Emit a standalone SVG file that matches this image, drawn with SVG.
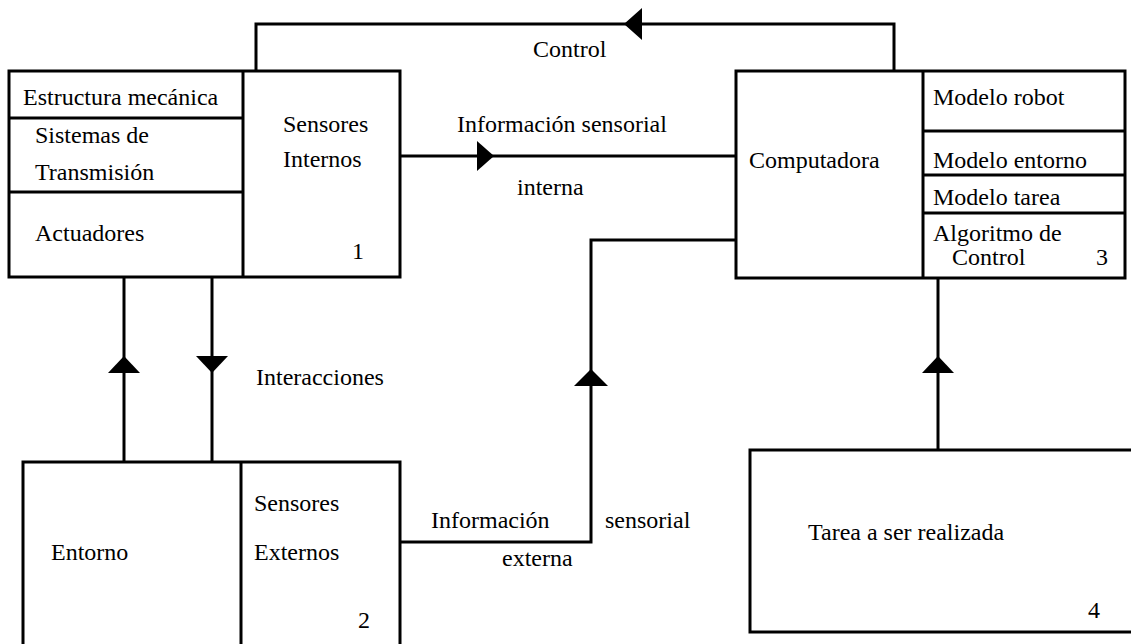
<svg xmlns="http://www.w3.org/2000/svg" width="1131" height="644" viewBox="0 0 1131 644">
  <rect width="1131" height="644" fill="#ffffff"/>

  <!-- Connectors: shared line look set on the group -->
  <g id="connectors">
    <g fill="none" stroke="#000000" stroke-width="3">
      <!-- Control: computer back to robot -->
      <polyline points="894,71 894,24 256,24 256,71"/>
      <!-- Internal sensory information -->
      <line x1="400" y1="156" x2="736" y2="156"/>
      <!-- Interactions robot / environment -->
      <line x1="124" y1="277" x2="124" y2="462"/>
      <line x1="212" y1="277" x2="212" y2="462"/>
      <!-- External sensory information -->
      <polyline points="400,542 591,542 591,240 736,240"/>
      <!-- Task to computer -->
      <line x1="938" y1="279" x2="938" y2="450"/>
    </g>
    <!-- Arrowheads -->
    <g fill="#000000">
      <polygon points="624,24 642,8 642,40"/>
      <polygon points="494,156 477,141 477,171"/>
      <polygon points="124,356 108,373 140,373"/>
      <polygon points="212,373 196,356 228,356"/>
      <polygon points="591,369 574,386 608,386"/>
      <polygon points="938,356 922,373 954,373"/>
    </g>
    <text x="533" y="57" font-family="Liberation Serif" font-size="24">Control</text>
    <text x="457" y="132" font-family="Liberation Serif" font-size="24">Información sensorial</text>
    <text x="517" y="195" font-family="Liberation Serif" font-size="24">interna</text>
    <text x="256" y="385" font-family="Liberation Serif" font-size="24">Interacciones</text>
    <text x="431" y="528" font-family="Liberation Serif" font-size="24">Información</text>
    <text x="605" y="528" font-family="Liberation Serif" font-size="24">sensorial</text>
    <text x="502" y="566" font-family="Liberation Serif" font-size="24">externa</text>
  </g>

  <!-- Node 1: robot -->
  <g id="robot">
    <g fill="none" stroke="#000000" stroke-width="3">
      <rect x="9" y="71" width="391" height="206"/>
      <line x1="243" y1="71" x2="243" y2="277"/>
      <line x1="9" y1="118" x2="243" y2="118"/>
      <line x1="9" y1="192" x2="243" y2="192"/>
    </g>
    <text x="23" y="105" font-family="Liberation Serif" font-size="24">Estructura mecánica</text>
    <text x="35" y="143" font-family="Liberation Serif" font-size="24">Sistemas de</text>
    <text x="35" y="180" font-family="Liberation Serif" font-size="24">Transmisión</text>
    <text x="35" y="241" font-family="Liberation Serif" font-size="24">Actuadores</text>
    <text x="283" y="132" font-family="Liberation Serif" font-size="24">Sensores</text>
    <text x="283" y="167" font-family="Liberation Serif" font-size="24">Internos</text>
    <text x="352" y="259" font-family="Liberation Serif" font-size="24">1</text>
  </g>

  <!-- Node 2: environment -->
  <g id="entorno">
    <g fill="none" stroke="#000000" stroke-width="3">
      <rect x="23" y="462" width="377" height="190"/>
      <line x1="241" y1="462" x2="241" y2="652"/>
    </g>
    <text x="51" y="560" font-family="Liberation Serif" font-size="24">Entorno</text>
    <text x="254" y="511" font-family="Liberation Serif" font-size="24">Sensores</text>
    <text x="254" y="560" font-family="Liberation Serif" font-size="24">Externos</text>
    <text x="358" y="628" font-family="Liberation Serif" font-size="24">2</text>
  </g>

  <!-- Node 3: computer -->
  <g id="computadora">
    <g fill="none" stroke="#000000" stroke-width="3">
      <rect x="736" y="71" width="389" height="207"/>
      <line x1="923" y1="71" x2="923" y2="278"/>
      <line x1="923" y1="131" x2="1125" y2="131"/>
      <line x1="923" y1="175" x2="1125" y2="175"/>
      <line x1="923" y1="213" x2="1125" y2="213"/>
    </g>
    <text x="749" y="168" font-family="Liberation Serif" font-size="24">Computadora</text>
    <text x="933" y="105" font-family="Liberation Serif" font-size="24">Modelo robot</text>
    <text x="933" y="168" font-family="Liberation Serif" font-size="24">Modelo entorno</text>
    <text x="933" y="205" font-family="Liberation Serif" font-size="24">Modelo tarea</text>
    <text x="933" y="241" font-family="Liberation Serif" font-size="24">Algoritmo de</text>
    <text x="952" y="265" font-family="Liberation Serif" font-size="24">Control</text>
    <text x="1096" y="265" font-family="Liberation Serif" font-size="24">3</text>
  </g>

  <!-- Node 4: task -->
  <g id="tarea">
    <rect x="750" y="450" width="400" height="182" fill="none" stroke="#000000" stroke-width="3"/>
    <text x="808" y="540" font-family="Liberation Serif" font-size="24">Tarea a ser realizada</text>
    <text x="1088" y="618" font-family="Liberation Serif" font-size="24">4</text>
  </g>
</svg>
